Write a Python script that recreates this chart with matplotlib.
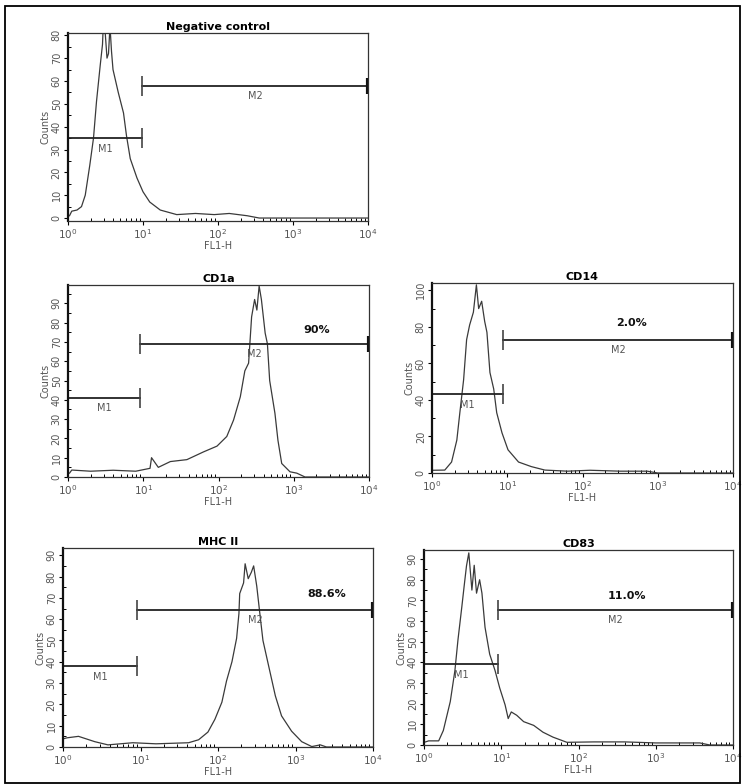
import matplotlib
matplotlib.use("Agg")
import matplotlib.pyplot as plt
from matplotlib.patches import Rectangle
from matplotlib.ticker import MultipleLocator, LogLocator, NullFormatter
import numpy as np

# histogram traces, x as log10(FL1-H), y as counts
neg_logx = [0.02, 0.05, 0.12, 0.18, 0.23, 0.29, 0.34, 0.38, 0.43, 0.46, 0.47, 0.49, 0.52, 0.54, 0.56, 0.58,
            0.60, 0.67, 0.74, 0.78, 0.83, 0.92, 1.00, 1.09, 1.23, 1.45, 1.70, 1.95, 2.15, 2.39, 2.55, 4.0]
neg_y = [1, 3, 3.5, 5, 10, 23, 35, 51, 67, 76, 84, 84, 70, 72, 84, 73,
         65, 55, 46, 36, 26, 17.5, 11.5, 7, 3.5, 1.5, 2, 1.5, 2, 1, 0, 0]

cd1a_logx = [0.02, 0.05, 0.3, 0.6, 0.9, 1.09, 1.11, 1.2, 1.36, 1.58, 1.80, 1.98, 2.11, 2.20, 2.29, 2.35,
             2.40, 2.44, 2.48, 2.51, 2.54, 2.57, 2.62, 2.65, 2.68, 2.75, 2.79, 2.84, 2.95, 3.04, 3.15, 4.0]
cd1a_y = [2, 3.6, 3, 3.5, 3, 4.5, 10, 5, 8, 9, 13, 16, 21, 29.5, 41.6, 55,
          59, 83, 92, 86.5, 99, 92, 74.6, 69, 50, 33, 19, 7, 2.7, 2, 0, 0]

cd14_logx = [0.02, 0.17, 0.26, 0.33, 0.37, 0.42, 0.46, 0.50, 0.55, 0.59, 0.62, 0.66, 0.70, 0.73, 0.77,
             0.82, 0.86, 0.93, 1.01, 1.15, 1.32, 1.50, 1.80, 2.10, 2.50, 2.86, 3.0, 4.0]
cd14_y = [1.5, 1.6, 6, 18, 33, 51, 73, 81, 88, 103, 90, 94, 83, 77, 55,
          46, 33, 22, 12.7, 6, 3.5, 1.6, 1, 1.5, 1, 1, 0, 0]

mhc_logx = [0.02, 0.05, 0.20, 0.41, 0.58, 0.9, 1.2, 1.62, 1.75, 1.87, 1.96, 2.05, 2.11, 2.18, 2.24, 2.27,
            2.28, 2.33, 2.35, 2.39, 2.43, 2.46, 2.50, 2.54, 2.58, 2.65, 2.74, 2.82, 2.95, 3.08, 3.21, 3.32, 3.4, 4.0]
mhc_y = [4, 4.3, 5, 2.5, 1, 2, 1.5, 2, 3.4, 7, 13, 21, 31, 40, 51, 62.6,
         72, 77, 86, 79, 82, 85, 75.5, 62.6, 50, 38.6, 24, 14.6, 7.4, 2.5, 0.2, 1, 0, 0]

cd83_logx = [0.02, 0.06, 0.19, 0.25, 0.34, 0.40, 0.44, 0.49, 0.52, 0.55, 0.58, 0.62, 0.65, 0.68, 0.72, 0.75,
             0.79, 0.85, 0.92, 0.98, 1.05, 1.09, 1.13, 1.20, 1.29, 1.42, 1.54, 1.67, 1.85, 2.2, 2.6, 3.0, 3.57, 3.7, 4.0]
cd83_y = [1.5, 2, 2, 7, 21, 36, 51, 67, 77, 86.7, 93, 75, 87, 73.5, 80, 73.5,
          57, 44, 36, 27.6, 19.4, 12.8, 16, 14.4, 11.3, 9.5, 6.2, 3.8, 1.3, 1.5, 1.5, 1, 1, 0, 0]

titles = ["Negative control", "CD1a", "CD14", "MHC II", "CD83"]
traces_x = [neg_logx, cd1a_logx, cd14_logx, mhc_logx, cd83_logx]
traces_y = [neg_y, cd1a_y, cd14_y, mhc_y, cd83_y]
ymax = [81, 99.5, 104, 93.4, 94.4]
ymin = [-1.3, 0, 0, 0, 0]
ytick_step = [10, 10, 20, 10, 10]

# marker gates: M1 = [1, m1_end] at m1_y ; M2 = [m2_start, 1e4] at m2_y
m1_end = [9.7, 9.0, 8.8, 9.0, 9.0]
m1_y = [35, 41, 43, 38, 39]
m2_start = [9.7, 9.0, 8.8, 9.0, 9.0]
m2_y = [58, 69, 73, 64.5, 65.5]
pct_text = ["", "90%", "2.0%", "88.6%", "11.0%"]
pct_x = [0, 2000, 450, 2500, 430]
pct_y = [0, 76, 82, 71.6, 72]

# axes boxes in pixels (left, top, right, bottom) on the 744x784 canvas
boxes = [(68, 33, 368, 221), (68, 285, 369, 477), (432, 283, 733, 473),
         (63, 548, 373, 747), (424, 550, 733, 745)]

W, H = 744, 784
fig = plt.figure(figsize=(W / 100, H / 100), dpi=100)
fig.patches.append(Rectangle((5 / W, 1 / H), 735 / W, (H - 7) / H, transform=fig.transFigure,
                             fill=False, edgecolor="black", linewidth=1.3))

grey = "#555555"
for i in range(5):
    l, t, r, b = boxes[i]
    ax = fig.add_axes([l / W, 1 - b / H, (r - l) / W, (b - t) / H])
    ax.plot(10 ** np.array(traces_x[i]), traces_y[i], color="#3a3a3a", linewidth=0.9)
    ax.set_xscale("log")
    ax.set_xlim(1, 1e4)
    ax.set_ylim(ymin[i], ymax[i])

    # gates
    ax.plot([1, m1_end[i]], [m1_y[i], m1_y[i]], color="#222222", linewidth=1.3)
    ax.plot([m1_end[i]], [m1_y[i]], marker="|", markersize=14, color="#444444", markeredgewidth=1.2)
    ax.plot([m2_start[i], 1e4], [m2_y[i], m2_y[i]], color="#222222", linewidth=1.3)
    ax.plot([m2_start[i]], [m2_y[i]], marker="|", markersize=14, color="#444444", markeredgewidth=1.2)
    ax.plot([1e4], [m2_y[i]], marker="|", markersize=11, color="#111111", markeredgewidth=3)
    ax.annotate("M1", (np.sqrt(m1_end[i]), m1_y[i]), xytext=(0, -4), textcoords="offset points",
                ha="center", va="top", fontsize=7, color=grey)
    ax.annotate("M2", (np.sqrt(m2_start[i] * 1e4), m2_y[i]), xytext=(0, -4), textcoords="offset points",
                ha="center", va="top", fontsize=7, color=grey)
    if pct_text[i]:
        ax.text(pct_x[i], pct_y[i], pct_text[i], ha="center", va="center", fontsize=8,
                fontweight="bold", color="#111111")

    ax.set_title(titles[i], fontsize=8, fontweight="bold", pad=2)
    ax.set_xticks([1, 10, 100, 1000, 10000])
    ax.set_xticklabels([r"$10^0$", r"$10^1$", r"$10^2$", r"$10^3$", r"$10^4$"])
    ax.xaxis.set_minor_locator(LogLocator(base=10, subs=np.arange(2, 10), numticks=20))
    ax.xaxis.set_minor_formatter(NullFormatter())
    ax.yaxis.set_major_locator(MultipleLocator(ytick_step[i]))
    ax.yaxis.set_minor_locator(MultipleLocator(ytick_step[i] / 2))
    ax.tick_params(axis="x", which="major", labelsize=7.5)
    ax.tick_params(axis="y", which="major", labelsize=7)
    ax.tick_params(axis="both", which="major", direction="out", length=3, width=0.8,
                   labelcolor=grey, pad=1.5)
    ax.tick_params(axis="both", which="minor", direction="in", length=2, width=0.7)
    for lab in ax.get_yticklabels():
        lab.set_rotation(90)
        lab.set_va("center")
    ax.set_xlabel("FL1-H", fontsize=7, color=grey, labelpad=0)
    ax.set_ylabel("Counts", fontsize=7, color=grey, labelpad=1)
    for s in ax.spines.values():
        s.set_linewidth(0.9)
        s.set_color("#333333")
    ax.spines["left"].set_linewidth(1.6)
    ax.spines["left"].set_color("#111111")

plt.savefig("out.png", dpi=100)
